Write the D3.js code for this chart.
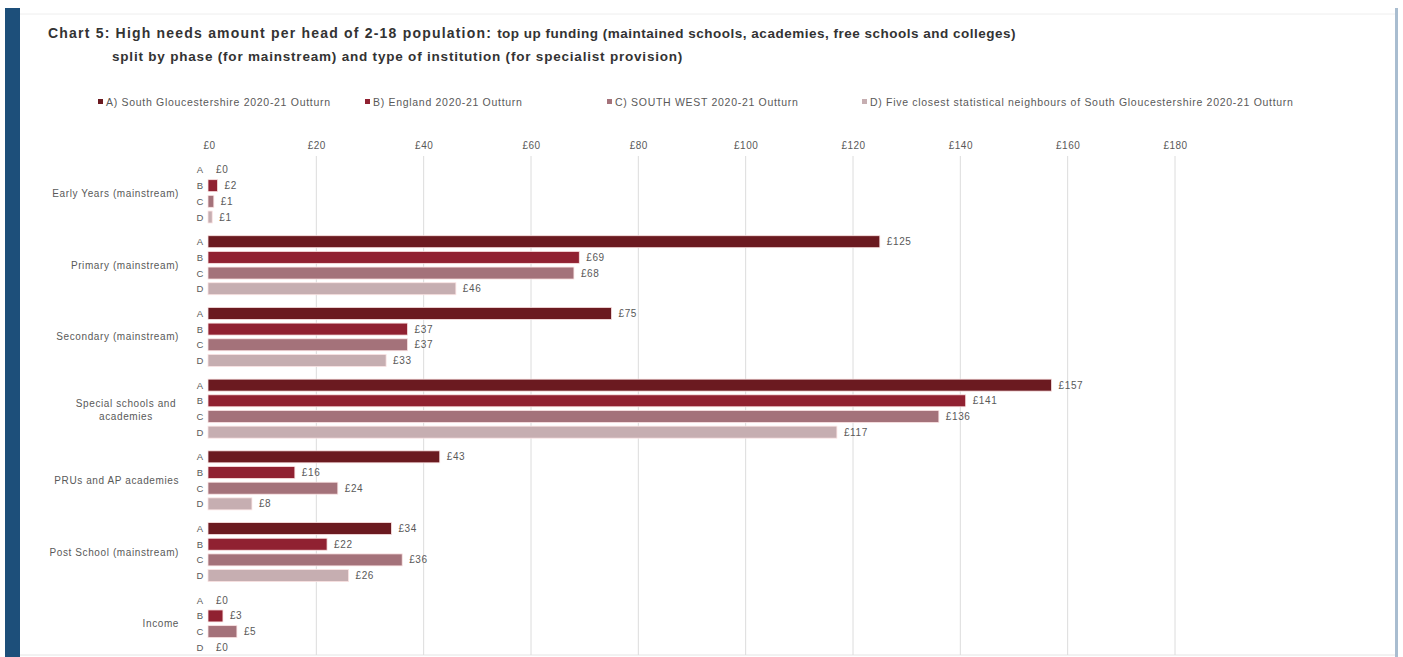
<!DOCTYPE html>
<html>
<head>
<meta charset="utf-8">
<script src="https://cdn.jsdelivr.net/npm/d3@7"></script>
<style>
  html, body { margin: 0; padding: 0; background: #fff; }
  svg { display: block; font-family: "Liberation Sans", Arial, sans-serif; }
</style>
</head>
<body>
<svg id="chart" width="1403" height="657"></svg>
<script>
// ---- data ----
const categories = [
  "Early Years (mainstream)",
  "Primary (mainstream)",
  "Secondary (mainstream)",
  "Special schools and academies",
  "PRUs and AP academies",
  "Post School (mainstream)",
  "Income"
];
const seriesKeys = ["A", "B", "C", "D"];
const seriesNames = [
  "A) South Gloucestershire 2020-21 Outturn",
  "B) England 2020-21 Outturn",
  "C) SOUTH WEST  2020-21 Outturn",
  "D) Five closest statistical neighbours of South Gloucestershire 2020-21 Outturn"
];
const valuesA = [0, 125, 75, 157, 43, 34, 0];
const valuesB = [1.6, 69, 37, 141, 16, 22, 2.6];
const valuesC = [0.9, 68, 37, 136, 24, 36, 5.2];
const valuesD = [0.6, 46, 33, 117, 8, 26, 0];
const tickValues = [0, 20, 40, 60, 80, 100, 120, 140, 160, 180];
const colors = ["#6b1a20", "#902131", "#a4727a", "#c6aeb1"];

const seriesValues = [valuesA, valuesB, valuesC, valuesD];

const svg = d3.select("#chart");

// frame
svg.append("rect").attr("x", 5).attr("y", 8).attr("width", 15).attr("height", 649).attr("fill", "#1d4f7a");
svg.append("line").attr("x1", 20).attr("x2", 1396).attr("y1", 14).attr("y2", 14).attr("stroke", "#eeeeee");
svg.append("line").attr("x1", 20).attr("x2", 1396).attr("y1", 655).attr("y2", 655).attr("stroke", "#e4e4e4");
svg.append("rect").attr("x", 1395).attr("y", 8).attr("width", 3).attr("height", 649).attr("fill", "#a9bdd0");

// title
const title = svg.append("g").attr("fill", "#333").style("font-weight", "bold");
const t1 = title.append("text").attr("x", 48).attr("y", 38);
t1.append("tspan").style("font-size", "14px").style("letter-spacing", "1.2px")
  .text("Chart 5: High needs amount per head of 2-18 population: ");
t1.append("tspan").style("font-size", "13.5px").style("letter-spacing", "0.5px")
  .text("top up funding (maintained schools, academies, free schools and colleges)");
title.append("text").attr("x", 112).attr("y", 61).style("font-size", "13.5px").style("letter-spacing", "0.8px")
  .text("split by phase (for mainstream) and type of institution (for specialist provision)");

// legend
const legendX = [98, 365, 607, 862];
const lg = svg.append("g").style("font-size", "10.5px").style("letter-spacing", "0.7px").attr("fill", "#595959");
seriesNames.forEach((n, i) => {
  lg.append("rect").attr("x", legendX[i]).attr("y", 99).attr("width", 5).attr("height", 5).attr("fill", colors[i]);
  lg.append("text").attr("x", legendX[i] + 8).attr("y", 106).text(n);
});

// scales
const x = d3.scaleLinear().domain([0, 180]).range([209, 1175]);
const y = d3.scaleBand().domain(categories).range([160, 662]).padding(0);
const yInner = d3.scaleBand().domain(seriesKeys).range([4, 63]).paddingInner(0.236).paddingOuter(0);

// gridlines + axis
const axis = d3.axisTop(x).tickValues(tickValues).tickFormat(d => "£" + d).tickSize(0);
const axG = svg.append("g").attr("transform", "translate(0,152)").call(axis);
axG.select(".domain").remove();
axG.selectAll("text").style("font-size", "10px").style("letter-spacing", "0.5px")
  .attr("fill", "#595959").attr("font-family", "Liberation Sans, Arial, sans-serif");

svg.append("g").selectAll("line").data(tickValues.slice(1)).join("line")
  .attr("x1", d => x(d)).attr("x2", d => x(d))
  .attr("y1", 156).attr("y2", 655)
  .attr("stroke", "#dcdcdc").attr("stroke-width", 1);

// groups
const groups = svg.append("g").selectAll("g").data(categories).join("g")
  .attr("transform", d => `translate(0,${y(d)})`);

groups.each(function(cat, ci) {
  const g = d3.select(this);
  seriesKeys.forEach((k, si) => {
    const v = seriesValues[si][ci];
    const yy = yInner(k);
    const bw = yInner.bandwidth();
    g.append("rect")
      .attr("x", x(0) - 1).attr("y", yy)
      .attr("width", Math.max(0, x(v) - x(0)) + (v > 0 ? 1 : 0))
      .attr("height", bw)
      .attr("fill", colors[si])
      .attr("stroke", v > 0 ? "#fbe3e3" : "none").attr("stroke-width", 0.8);
    g.append("text").attr("x", 200).attr("y", yy + bw / 2 + 3.5)
      .attr("text-anchor", "middle").style("font-size", "9.5px").attr("fill", "#595959").text(k);
    g.append("text").attr("x", x(v) + 7).attr("y", yy + bw / 2 + 3.5)
      .style("font-size", "10px").style("letter-spacing", "0.6px").attr("fill", "#595959").text("£" + Math.round(v));
  });
  const cy = yInner.range()[0] + (yInner.range()[1] - yInner.range()[0]) / 2;
  if (cat === "Special schools and academies") {
    const t = g.append("text").attr("text-anchor", "middle").attr("x", 126)
      .style("font-size", "10px").style("letter-spacing", "0.6px").attr("fill", "#595959");
    t.append("tspan").attr("x", 126).attr("y", cy - 2).text("Special schools and");
    t.append("tspan").attr("x", 126).attr("y", cy + 11).text("academies");
  } else {
    g.append("text").attr("x", 179).attr("y", cy + 3.5).attr("text-anchor", "end")
      .style("font-size", "10px").style("letter-spacing", "0.6px").attr("fill", "#595959").text(cat);
  }
});
</script>
</body>
</html>
